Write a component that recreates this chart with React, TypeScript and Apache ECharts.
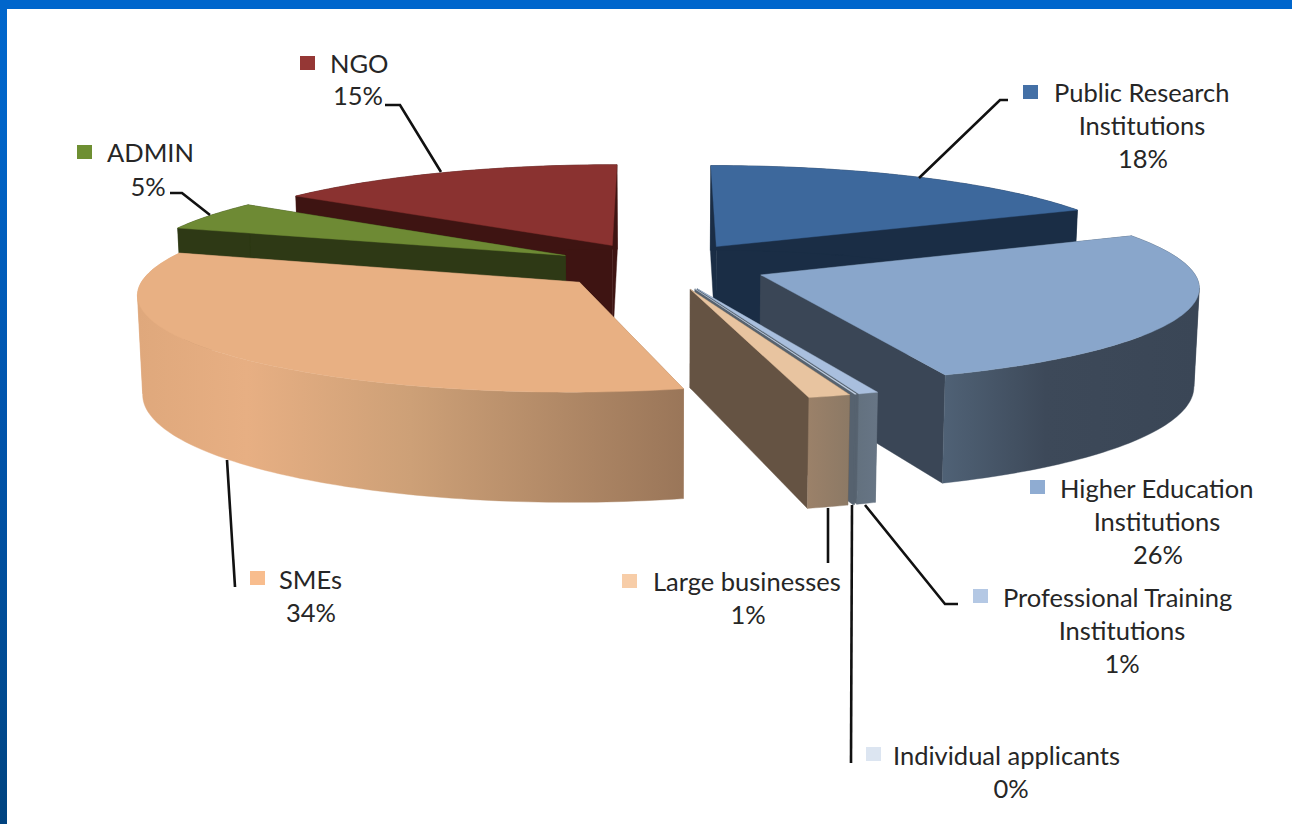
import React, { useEffect, useRef } from "react";
import * as echarts from "echarts";

// --- data -------------------------------------------------------------
const categories = [
  "Public Research Institutions",
  "Higher Education Institutions",
  "Professional Training Institutions",
  "Individual applicants",
  "Large businesses",
  "SMEs",
  "ADMIN",
  "NGO",
];
const shares = [18, 26.2, 0.65, 0.05, 1.38, 33.72, 5, 15];

// --- style ------------------------------------------------------------
const topColors = ["#3D689C", "#89A6CB", "#A9BFDE", "#C6D4E8", "#E8C4A0", "#E8B083", "#6E8A34", "#8A3230"];
const wallColors = ["#1A2D45", "#3A4656", "#56626F", "#56626F", "#655343", "#9E7A5C", "#2E3915", "#3E1412"];
const swatchColors = ["#4470A6", "#8FACD2", "#B4C8E4", "#DCE5F1", "#F7CDA8", "#F8BD8E", "#6E8F32", "#953735"];
const outerStops: any[] = [
  null,
  { from: 945, to: 1197, stops: [[0, "#4F6175"], [0.4, "#3D4959"], [1, "#3A4656"]] },
  { from: 858, to: 877, stops: [[0, "#63717F"], [1, "#677585"]] },
  null,
  { from: 808, to: 849, stops: [[0, "#9B8169"], [1, "#8C7965"]] },
  { from: 138, to: 683, stops: [[0, "#DFA87C"], [0.2, "#E7AF83"], [0.5, "#CDA077"], [1, "#9A7659"]] },
  null,
  null,
];

// --- projection of the pie plane onto the page -------------------------
const CX = 660, CY = 266, RX = 430, RY = 94, PERSP = 0.11, EXPLODE = 0.25, DEPTH = 96, SHRINK = 0.99;
const TOTAL = shares.reduce((a, b) => a + b, 0);
const cumulative = shares.map((_, i) => shares.slice(0, i).reduce((a, b) => a + b, 0));

function project(x: number, y: number, bottom: boolean): number[] {
  const w = 1 + PERSP * y;
  const sx = (RX * x) / w;
  const sy = (-RY * y) / w;
  return bottom ? [CX + sx * SHRINK, CY + sy + DEPTH / w] : [CX + sx, CY + sy];
}

function renderSlice(params: any, api: any) {
  const i = api.value(1);
  const value = api.value(0);
  const a0 = (cumulative[i] / TOTAL) * Math.PI * 2;
  const a1 = a0 + (value / TOTAL) * Math.PI * 2;
  const mid = (a0 + a1) / 2;
  const ox = EXPLODE * Math.sin(mid);
  const oy = EXPLODE * Math.cos(mid);
  const steps = Math.max(2, Math.ceil((a1 - a0) / 0.02));
  const rim = (bottom: boolean) => {
    const out: number[][] = [];
    for (let s = 0; s <= steps; s++) {
      const a = a0 + ((a1 - a0) * s) / steps;
      out.push(project(ox + Math.sin(a), oy + Math.cos(a), bottom));
    }
    return out;
  };
  const apexTop = project(ox, oy, false);
  const apexBottom = project(ox, oy, true);
  const rimTop = rim(false);
  const rimBottom = rim(true);
  const wall = wallColors[i];
  const poly = (points: number[][], fill: any, stroke?: any) => ({
    type: "polygon",
    shape: { points },
    style: { fill, stroke: stroke || "none", lineWidth: stroke ? 0.4 : 0 },
  });
  const grad = outerStops[i];
  const outerFill = grad
    ? new echarts.graphic.LinearGradient(
        grad.from, 0, grad.to, 0,
        grad.stops.map((s: any[]) => ({ offset: s[0], color: s[1] })),
        true
      )
    : wall;

  // the rim folds back at its left and right extremes, so the outer wall is
  // built from pieces in which x runs one way only
  const pieces: any[] = [];
  let start = 0;
  for (let s = 1; s <= steps; s++) {
    const turns =
      s < steps && (rimTop[s][0] - rimTop[s - 1][0]) * (rimTop[s + 1][0] - rimTop[s][0]) < 0;
    if (s === steps || turns) {
      pieces.push(
        poly(
          [...rimTop.slice(start, s + 1), ...rimBottom.slice(start, s + 1).reverse()],
          outerFill,
          outerFill
        )
      );
      start = s;
    }
  }

  return {
    type: "group",
    children: [
      poly([apexTop, rimTop[0], rimBottom[0], apexBottom], wall, wall),
      poly([apexTop, rimTop[steps], rimBottom[steps], apexBottom], wall, wall),
      ...pieces,
      poly([apexTop, ...rimTop], topColors[i], topColors[i]),
    ],
  };
}

// back-to-front order of the slices
const drawOrder = categories
  .map((_, i) => i)
  .sort((a, b) => {
    const m = (k: number) => ((cumulative[k] + shares[k] / 2) / TOTAL) * Math.PI * 2;
    return Math.cos(m(b)) - Math.cos(m(a));
  });

// --- labels -----------------------------------------------------------
const pct = (i: number) => `${Math.round(shares[i])}%`;
const FONT = "25.5px Lato";
const TEXT = "#262626";

function label(text: string, x: number, y: number, align: string) {
  return { type: "text", z: 5, style: { text, x, y, fill: TEXT, font: FONT, align, verticalAlign: "middle" } };
}
function swatch(i: number, x: number, y: number) {
  return { type: "rect", z: 5, shape: { x, y, width: 15, height: 14 }, style: { fill: swatchColors[i] } };
}
function leader(points: number[][]) {
  return { type: "polyline", z: 5, shape: { points }, style: { stroke: "#111111", lineWidth: 2.6, fill: "none" } };
}

const graphics: any[] = [
  { type: "rect", z: 0, shape: { x: 0, y: 0, width: 1292, height: 824 }, style: { fill: "#ffffff" } },
  {
    type: "rect", z: 1, shape: { x: 0, y: 0, width: 7, height: 824 },
    style: {
      fill: new echarts.graphic.LinearGradient(0, 0, 0, 1, [
        { offset: 0, color: "#0066CC" },
        { offset: 0.15, color: "#0064C8" },
        { offset: 0.5, color: "#0054AC" },
        { offset: 0.85, color: "#004A90" },
        { offset: 1, color: "#00437F" },
      ]),
    },
  },
  { type: "rect", z: 1, shape: { x: 0, y: 0, width: 1292, height: 9 }, style: { fill: "#0066CC" } },

  swatch(0, 1023, 85),
  label("Public Research", 1054, 92, "left"),
  label("Institutions", 1142, 125, "center"),
  label(pct(0), 1143, 158, "center"),
  leader([[1008, 100], [1000, 100], [919, 178]]),

  swatch(1, 1030, 480),
  label("Higher Education", 1060, 488, "left"),
  label("Institutions", 1157, 521, "center"),
  label(pct(1), 1158, 554, "center"),

  swatch(2, 973, 589),
  label("Professional Training", 1003, 597, "left"),
  label("Institutions", 1122, 630, "center"),
  label(pct(2), 1122, 663, "center"),
  leader([[958, 604], [945, 604], [865, 505]]),

  swatch(3, 866, 747),
  label("Individual applicants", 893, 755, "left"),
  label(pct(3), 1011, 788, "center"),
  leader([[851, 763], [852, 505]]),

  swatch(4, 622, 574),
  label("Large businesses", 653, 581, "left"),
  label(pct(4), 748, 614, "center"),
  leader([[828, 563], [828, 508]]),

  swatch(5, 250, 571),
  label("SMEs", 279, 579, "left"),
  label(pct(5), 311, 612, "center"),
  leader([[235, 587], [227, 460]]),

  swatch(6, 77, 145),
  label("ADMIN", 107, 152, "left"),
  label(pct(6), 148, 186, "center"),
  leader([[170, 193], [182, 193], [210, 215]]),

  swatch(7, 300, 56),
  label("NGO", 330, 63, "left"),
  label(pct(7), 358, 95, "center"),
  leader([[385, 105], [400, 105], [441, 172]]),
];

export default function App() {
  const ref = useRef<HTMLDivElement>(null);
  useEffect(() => {
    document.body.style.margin = "0";
    const chart = echarts.init(ref.current!, undefined, { renderer: "svg" });
    chart.setOption({
      animation: false,
      backgroundColor: "#ffffff",
      graphic: { elements: graphics },
      series: [
        {
          type: "custom",
          coordinateSystem: "none",
          silent: true,
          renderItem: renderSlice,
          data: drawOrder.map((i) => ({ name: categories[i], value: [shares[i], i] })),
        },
      ],
    });
    return () => chart.dispose();
  }, []);
  return <div ref={ref} style={{ width: 1292, height: 824, fontVariantLigatures: "none" }} />;
}
